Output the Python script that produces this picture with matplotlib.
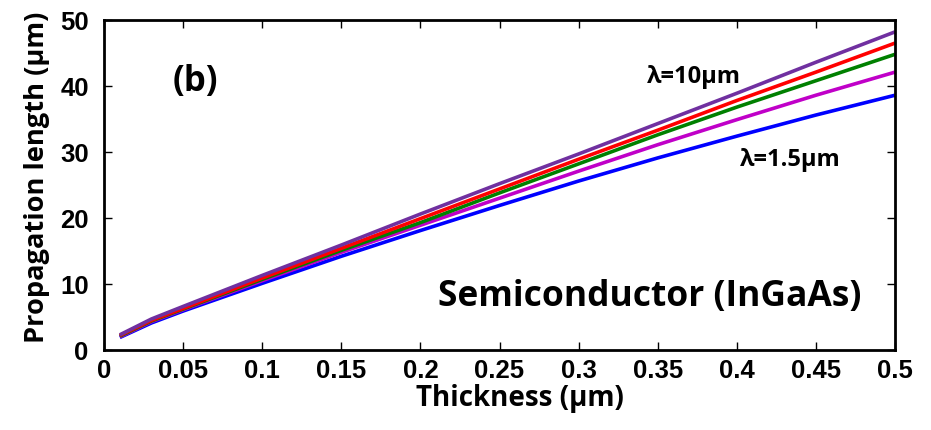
import matplotlib
matplotlib.use("Agg")
import matplotlib.pyplot as plt

# Thickness of the InGaAs layer (µm)
thickness = [0.01, 0.03, 0.05, 0.10, 0.15, 0.20, 0.25, 0.30, 0.35, 0.40, 0.45, 0.50]

# Propagation length (µm) for each wavelength, from 1.5 µm up to 10 µm
len_1p5 = [1.9, 4.1, 5.9, 10.1, 14.2, 18.1, 21.9, 25.6, 29.1, 32.4, 35.6, 38.6]
len_b   = [2.0, 4.3, 6.1, 10.5, 14.8, 18.9, 23.0, 27.1, 31.1, 34.9, 38.6, 42.1]
len_c   = [2.1, 4.4, 6.2, 10.7, 15.1, 19.3, 23.8, 28.2, 32.6, 36.8, 40.8, 44.8]
len_d   = [2.2, 4.5, 6.3, 10.9, 15.4, 19.9, 24.4, 28.9, 33.3, 37.8, 42.1, 46.5]
len_10  = [2.3, 4.7, 6.6, 11.3, 15.9, 20.6, 25.2, 29.7, 34.3, 38.9, 43.6, 48.2]

series = [len_1p5, len_b, len_c, len_d, len_10]
colors = ["#0000FF", "#C000C8", "#008000", "#FF0000", "#7030A0"]

x_ticks = [0, 0.05, 0.1, 0.15, 0.2, 0.25, 0.3, 0.35, 0.4, 0.45, 0.5]
x_tick_labels = ["0", "0.05", "0.1", "0.15", "0.2", "0.25", "0.3", "0.35", "0.4", "0.45", "0.5"]
y_ticks = [0, 10, 20, 30, 40, 50]

label_font = "Open Sans"
tick_font = "Liberation Sans"

W, H = 931, 431
fig = plt.figure(figsize=(W / 100, H / 100), dpi=100)
ax = fig.add_axes([104 / W, 80 / H, 791 / W, 330 / H])

for ys, c in zip(series, colors):
    ax.plot(thickness, ys, color=c, lw=2.6, solid_capstyle="butt")

ax.set_xlim(0, 0.5)
ax.set_ylim(0, 50)
ax.set_xticks(x_ticks)
ax.set_xticklabels(x_tick_labels)
ax.set_yticks(y_ticks)

for sp in ax.spines.values():
    sp.set_linewidth(2.0)

ax.tick_params(direction="in", length=5.5, width=1.0, top=True, right=True,
               labelsize=18.5)
ax.tick_params(axis="x", pad=6)
ax.tick_params(axis="y", pad=11)
for lab in ax.get_xticklabels() + ax.get_yticklabels():
    lab.set_fontfamily(tick_font)
    lab.set_fontweight("bold")

# Axis titles
fig.text(519.5 / W, 1 - 406 / H, "Thickness (µm)", fontsize=20, fontweight="bold",
         fontfamily=label_font, ha="center", va="baseline")
fig.text(37 / W, 1 - 177 / H, "Propagation length (µm)", fontsize=19.6,
         fontweight="bold", fontfamily=label_font, ha="center", va="center",
         rotation=90)

ax.text(0.058, 40.8, "(b)", fontsize=25, fontweight="bold",
        fontfamily=label_font, ha="center", va="center")
ax.text(0.373, 41.5, "λ=10µm", fontsize=17, fontweight="bold",
        fontfamily=label_font, ha="center", va="center")
ax.text(0.434, 28.9, "λ=1.5µm", fontsize=17, fontweight="bold",
        fontfamily=label_font, ha="center", va="center")
ax.text(0.4785, 8.2, "Semiconductor (InGaAs)", fontsize=25.5, fontweight="bold",
        fontfamily=label_font, ha="right", va="center")

fig.savefig("out.png", dpi=100)
